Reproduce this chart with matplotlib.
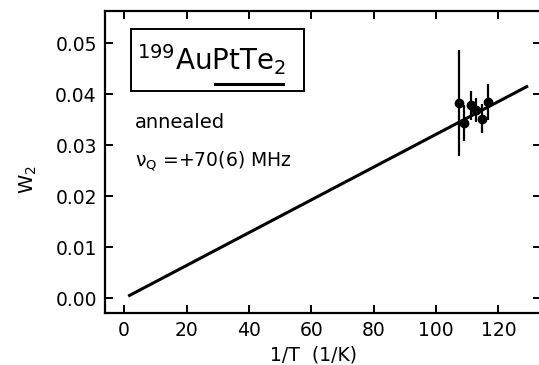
import matplotlib
matplotlib.use("Agg")
import matplotlib.pyplot as plt
from matplotlib.patches import Rectangle
from matplotlib.lines import Line2D

# measured points (1/T in 1/K, W2)
inv_t = [107.5, 109.0, 111.1, 112.9, 114.6, 116.5]
w2 = [0.0382, 0.0343, 0.0378, 0.0369, 0.0352, 0.0385]
w2_err = [0.0104, 0.0035, 0.0029, 0.0023, 0.0028, 0.0035]

# straight-line fit through the origin region
fit_x = [1.3, 129.5]
fit_y = [0.0004, 0.0416]

x_ticks = [0, 20, 40, 60, 80, 100, 120]
y_ticks = [0.00, 0.01, 0.02, 0.03, 0.04, 0.05]

plt.rcParams["font.family"] = ["DejaVu Sans"]
plt.rcParams["mathtext.default"] = "regular"

fig = plt.figure(figsize=(5.39, 3.65), dpi=100)
ax = fig.add_axes([0.195, 0.1425, 0.809, 0.8275])

ax.plot(fit_x, fit_y, color="black", lw=2.2, solid_capstyle="butt")
ax.errorbar(inv_t, w2, yerr=w2_err, fmt="o", color="black", ms=6,
            elinewidth=1.6, capsize=0)

ax.set_xlim(-6.1, 133.7)
ax.set_ylim(-0.0029, 0.0563)
ax.set_xticks(x_ticks)
ax.set_yticks(y_ticks)
ax.set_xticklabels([str(v) for v in x_ticks])
ax.set_yticklabels([f"{v:.2f}" for v in y_ticks])

ax.tick_params(direction="in", length=6, width=1.4, labelsize=13.5, pad=6,
               top=True, right=True)
for s in ax.spines.values():
    s.set_linewidth(1.6)

ax.set_xlabel("1/T  (1/K)", fontsize=13.5, va="center")
ax.xaxis.set_label_coords(0.478, -0.138)
ax.set_ylabel("W$_2$", fontsize=14)
ax.yaxis.set_label_coords(-0.152, 0.44)

# boxed sample label
ax.add_patch(Rectangle((0.060, 0.735), 0.396, 0.205, transform=ax.transAxes,
                       fill=False, lw=1.4, color="black"))
ax.text(0.074, 0.805, "$^{199}$AuPtTe$_2$", transform=ax.transAxes,
        fontsize=20, ha="left", va="baseline")
ax.add_line(Line2D([0.252, 0.408], [0.757, 0.757], transform=ax.transAxes,
                   color="black", lw=2.2))

ax.text(0.069, 0.613, "annealed", transform=ax.transAxes,
        fontsize=14, ha="left", va="baseline")
ax.text(0.069, 0.485, r"$\nu_Q$ =+70(6) MHz", transform=ax.transAxes,
        fontsize=13.5, ha="left", va="baseline")

fig.savefig("out.png", dpi=100)
